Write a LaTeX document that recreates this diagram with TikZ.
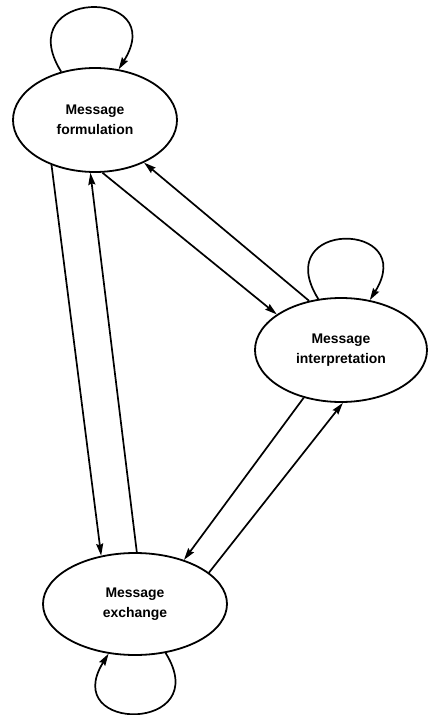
\documentclass[tikz,border=0pt]{standalone}
\usepackage{fontspec}
\setmainfont{Liberation Sans}
\usetikzlibrary{arrows.meta,shapes.geometric}
\begin{document}
\begin{tikzpicture}[x=1bp,y=1bp,
  state/.style={ellipse, draw, line width=1.8bp, inner sep=0pt, align=center,
    font=\fontsize{14}{20}\selectfont\bfseries},
  conn/.style={line width=1.7bp, -{Stealth[length=12bp,width=7bp,inset=1.5bp]}},
]
\fill[white] (0,0) rectangle (428,-715);
\useasboundingbox (0,0) rectangle (428,-715);
\node[state, minimum width=164bp, minimum height=104bp] (F) at (95,-120) {Message\\formulation};
\node[state, minimum width=172bp, minimum height=104bp] (I) at (341,-350) {Message\\interpretation};
\node[state, minimum width=184bp, minimum height=102bp] (E) at (135,-604) {Message\\exchange};
% straight connectors
\draw[conn] (F.-134) -- (E.125);
\draw[conn] (E.88) -- (F.-95);
\draw[conn] (F.-82.5) -- (I.151);
\draw[conn] (I.123) -- (F.-41);
\draw[conn] (I.-128) -- (E.42);
\draw[conn] (E.23) -- (I.-88);
% self loops
\draw[conn] (F.125) .. controls +(122:98) and +(58:98) .. (F.65);
\draw[conn] (I.114) .. controls +(122:94) and +(58:94) .. (I.60);
\draw[conn] (E.-58) .. controls +(-58:94) and +(-122:94) .. (E.-118);
\end{tikzpicture}
\end{document}
